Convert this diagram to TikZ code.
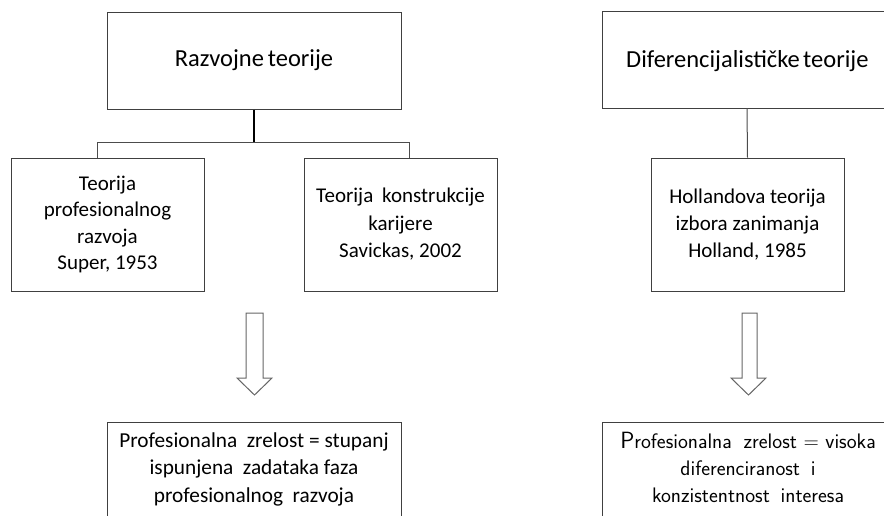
\documentclass[tikz,border=0pt]{standalone}
\usepackage{fontspec}
\setmainfont{Carlito}
\begin{document}
\begin{tikzpicture}[x=1pt,y=-1pt,
  box/.style={draw=black!75, line width=1pt, align=center, inner sep=0pt},
  conn/.style={draw=black!70, line width=1pt},
  hollow/.style={draw=black!60, line width=1pt, fill=white}]
\useasboundingbox (0,0) rectangle (884,515);
\clip (0,0) rectangle (884,515);
% top boxes
\node[box, minimum width=294pt, minimum height=97pt, font=\fontsize{24.5}{28}\selectfont] (raz) at (254,60.5) {Razvojne\hspace{-0.07em} teorije};
\node[box, minimum width=294pt, minimum height=97pt, anchor=north west] (dif) at (602,11) {};
\node[font=\fontsize{24.5}{28}\selectfont, anchor=west, inner sep=0pt] (diftxt) at (626,61) {Diferencijalističke\hspace{-0.09em} teorije};
% second row
\node[box, minimum width=193pt, minimum height=133pt, font=\fontsize{21}{26.5}\selectfont] (sup) at (107.5,224.5) {Teorija\\profesionalnog\\razvoja\\Super, 1953};
\node[box, minimum width=193pt, minimum height=133pt, font=\fontsize{21}{27.5}\selectfont] (sav) at (400.5,224.5) {Teorija\hspace{0.2em} konstrukcije\\karijere\\Savickas, 2002};
\node[box, minimum width=193pt, minimum height=133pt, font=\fontsize{21}{27}\selectfont] (hol) at (747.5,224.5) {Hollandova teorija\\izbora zanimanja\\Holland, 1985};
% bottom boxes
\node[box, minimum width=294pt, minimum height=120pt, anchor=north] (zl) at (254,422) {};
\node[anchor=north, align=center, font=\fontsize{21.3}{27.5}\selectfont] (zltxt) at (254,429) {Profesionalna\hspace{0.22em} zrelost = stupanj\\ispunjena\hspace{0.22em} zadataka faza\\profesionalnog\hspace{0.22em} razvoja};
\node[box, minimum width=294pt, minimum height=120pt, anchor=north west] (zr) at (602,422) {};
\node[anchor=north, align=center, font=\sffamily\fontsize{21}{27}\selectfont] (zrtxt) at (748,429) {{\fontsize{23.5}{27}\selectfont P}rofesionalna\hspace{0.25em} zrelost = visoka\\diferenciranost\hspace{0.2em} i\\konzistentnost\hspace{0.2em} interesa};
% connectors
\coordinate (j) at (254,142);
\draw[black, line width=1.8pt] (raz.south) -- (j);
\draw[conn] (j) -- (97.5,142) -- (97.5,158);
\draw[conn] (j) -- (409,142) -- (409,158);
\draw[conn] (747,108) -- (hol.north);
% hollow arrows
\draw[hollow, line join=miter] (246,313) -- (263,313) -- (263,378) -- (272,378) -- (254.5,395) -- (237,378) -- (246,378) -- cycle;
\draw[hollow, line join=miter] (742,313) -- (757,313) -- (757,378) -- (766,378) -- (748.5,395) -- (731,378) -- (742,378) -- cycle;
\end{tikzpicture}
\end{document}
